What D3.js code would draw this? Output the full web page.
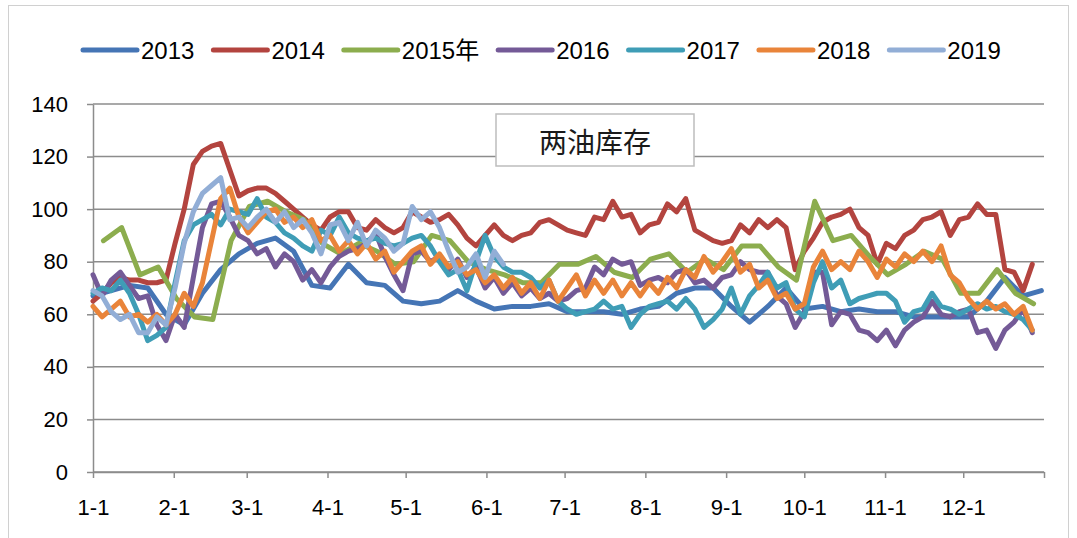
<!doctype html>
<html>
<head>
<meta charset="utf-8">
<title>两油库存</title>
<script src="https://d3js.org/d3.v7.min.js"></script>
<style>
  body { margin: 0; background: #fff; }
  svg text { font-family: "Liberation Sans", "Noto Sans CJK SC", sans-serif; fill: #000; }
  .axis path, .axis line { stroke: #8c8c8c; stroke-width: 1.5px; }
</style>
</head>
<body>
<script>

// ---- data ----
var months = ["1-1","2-1","3-1","4-1","5-1","6-1","7-1","8-1","9-1","10-1","11-1","12-1"];
var yTicks = [0, 20, 40, 60, 80, 100, 120, 140];
var names = ["2013", "2014", "2015年", "2016", "2017", "2018", "2019"];
var colors = ["#4575b5", "#b3443f", "#8cad4e", "#745a97", "#3f9db6", "#e9843a", "#92aed6"];
// day of year of first reading, and days between readings
var startDay = [0, 0, 4, 0, 0, 0, 0];
var stepDays = [7, 3.5, 7, 3.5, 3.5, 3.5, 3.5];

var v2013 = [67,69,71,70,60,56,68,77,83,87,89,84,71,70,79,72,71,65,64,65,69,65,62,63,63,64,61,61,61,60,62,63,68,70,70,63,57,63,70,62,63,61,62,61,61,59,59,59,59,65,74,67,69];
var v2014 = [65,68,72,74,73,73,72,72,73,87,100,117,122,124,125,115,105,107,108,
             108,106,103,100,97,94,92,97,99,99,93,92,96,93,91,93,99,
             97,95,96,98,94,89,86,90,94,90,88,90,91,95,96,94,
             92,91,90,97,96,103,97,98,91,94,95,102,99,104,92,90,88,87,
             88,94,91,96,93,96,93,77,84,89,95,97,98,100,93,90,79,
             87,85,90,92,96,97,99,90,96,97,102,98,98,77,76,69,79];
var v2015 = [88,93,75,78,66,59,58,88,101,103,99,96,87,83,87,84,79,80,90,88,80,77,75,72,72,79,79,82,76,74,81,83,76,81,77,86,86,78,73,103,88,90,82,75,79,84,81,68,68,77,68,64];
var v2016 = [75,67,73,76,71,66,67,56,50,60,55,74,93,102,103,97,90,88,83,85,78,83,80,73,77,72,78,82,84,85,87,91,82,75,69,83,
             84,80,82,77,81,74,78,70,74,68,72,67,70,66,68,65,
             66,69,70,78,75,81,79,80,71,73,74,72,76,77,72,73,70,74,
             75,80,77,76,76,67,64,55,61,76,76,56,61,60,54,53,50,
             54,48,54,57,59,65,60,59,61,62,53,54,47,54,57,62,53];
var v2017 = [68,70,69,73,68,60,50,52,55,72,88,94,96,98,94,100,99,98,104,
             97,95,91,89,86,84,92,90,97,91,89,88,89,87,86,87,89,
             90,86,80,75,77,69,80,90,82,78,76,76,74,70,73,65,
             62,60,61,62,65,62,63,55,60,63,64,65,62,66,62,55,58,62,
             70,60,67,71,76,70,72,62,59,72,80,70,73,64,66,67,68,
             68,65,57,61,62,68,63,62,60,62,64,62,63,61,60,58,54];
var v2018 = [63,59,62,65,59,60,57,60,56,60,68,63,72,88,104,108,97,91,95,
             99,100,95,97,93,96,88,90,84,88,83,87,81,84,76,80,84,
             86,79,83,78,80,75,77,72,75,70,74,68,72,66,73,65,
             70,75,67,73,68,73,67,72,67,72,68,74,70,77,74,82,76,80,
             85,76,79,70,73,66,68,62,64,78,84,77,80,77,84,80,74,
             81,78,83,80,84,80,86,75,72,66,62,65,62,64,60,63,54];
var v2019 = [69,67,61,58,60,53,53,59,56,70,87,99,106,109,112,96,97,93,97,
             100,95,99,93,96,91,83,94,95,88,95,86,92,89,84,87,101,
             96,99,93,84,76,78,83,74,84,79];

var values = [v2013, v2014, v2015, v2016, v2017, v2018, v2019];

// ---- chart ----
var W = 1077, H = 538;
var svg = d3.select("body").append("svg").attr("width", W).attr("height", H);

// chart border
svg.append("rect")
  .attr("x", 8.5).attr("y", 5.5).attr("width", W - 17).attr("height", H)
  .attr("fill", "none").attr("stroke", "#d0d0d0");

var base = Date.UTC(2001, 0, 1);
var x = d3.scaleUtc()
  .domain([new Date(base), new Date(Date.UTC(2002, 0, 1))])
  .range([93, 1044]);
var y = d3.scaleLinear().domain([0, 140]).range([472, 104]);

// gridlines
svg.append("g").selectAll("line").data(yTicks).join("line")
  .attr("x1", 93).attr("x2", 1044)
  .attr("y1", d => y(d)).attr("y2", d => y(d))
  .attr("stroke", "#8c8c8c").attr("stroke-width", 1.5);

// y axis
svg.append("g").attr("class", "axis")
  .attr("transform", "translate(93,0)")
  .call(d3.axisLeft(y).tickValues(yTicks).tickSize(6).tickSizeOuter(0).tickPadding(19))
  .call(g => g.selectAll("text").attr("font-size", 22).style("font-family", "Liberation Sans"));

// x axis
var monthTicks = d3.utcMonth.range(new Date(base), new Date(Date.UTC(2002, 0, 2)));
svg.append("g").attr("class", "axis")
  .attr("transform", "translate(0,472)")
  .call(d3.axisBottom(x).tickValues(monthTicks).tickSize(6).tickSizeOuter(0).tickPadding(21)
    .tickFormat((d, i) => months[i] || ""))
  .call(g => g.selectAll("text").attr("font-size", 22).style("font-family", "Liberation Sans"));

// title box
svg.append("rect")
  .attr("x", 496).attr("y", 114).attr("width", 198).attr("height", 52)
  .attr("fill", "#fff").attr("stroke", "#bdbdbd").attr("stroke-width", 1.5);
svg.append("text")
  .attr("x", 595).attr("y", 153).attr("text-anchor", "middle")
  .attr("font-size", 28).style("font-family", "Noto Sans CJK SC").style("fill", "#1a1a1a")
  .text("两油库存");

// series lines
var line = d3.line()
  .x(d => x(d.date))
  .y(d => y(d.value));

var series = values.map(function(vals, k) {
  return vals.map(function(v, i) {
    return { date: new Date(base + (startDay[k] + i * stepDays[k]) * 864e5), value: v };
  });
});

svg.append("g").selectAll("path").data(series).join("path")
  .attr("d", line)
  .attr("fill", "none")
  .attr("stroke", (d, k) => colors[k])
  .attr("stroke-width", 5)
  .attr("stroke-linejoin", "round")
  .attr("stroke-linecap", "round");

// legend
var lg = svg.append("g");
var lx = 83;
names.forEach(function(n, k) {
  lg.append("line")
    .attr("x1", lx).attr("x2", lx + 54).attr("y1", 50).attr("y2", 50)
    .attr("stroke", colors[k]).attr("stroke-width", 5).attr("stroke-linecap", "round");
  var t = lg.append("text")
    .attr("x", lx + 58).attr("y", 50).attr("dy", "0.36em")
    .attr("font-size", 24)
    .text(n);
  lx += 58 + t.node().getComputedTextLength() + 19;
});

</script>
</body>
</html>
